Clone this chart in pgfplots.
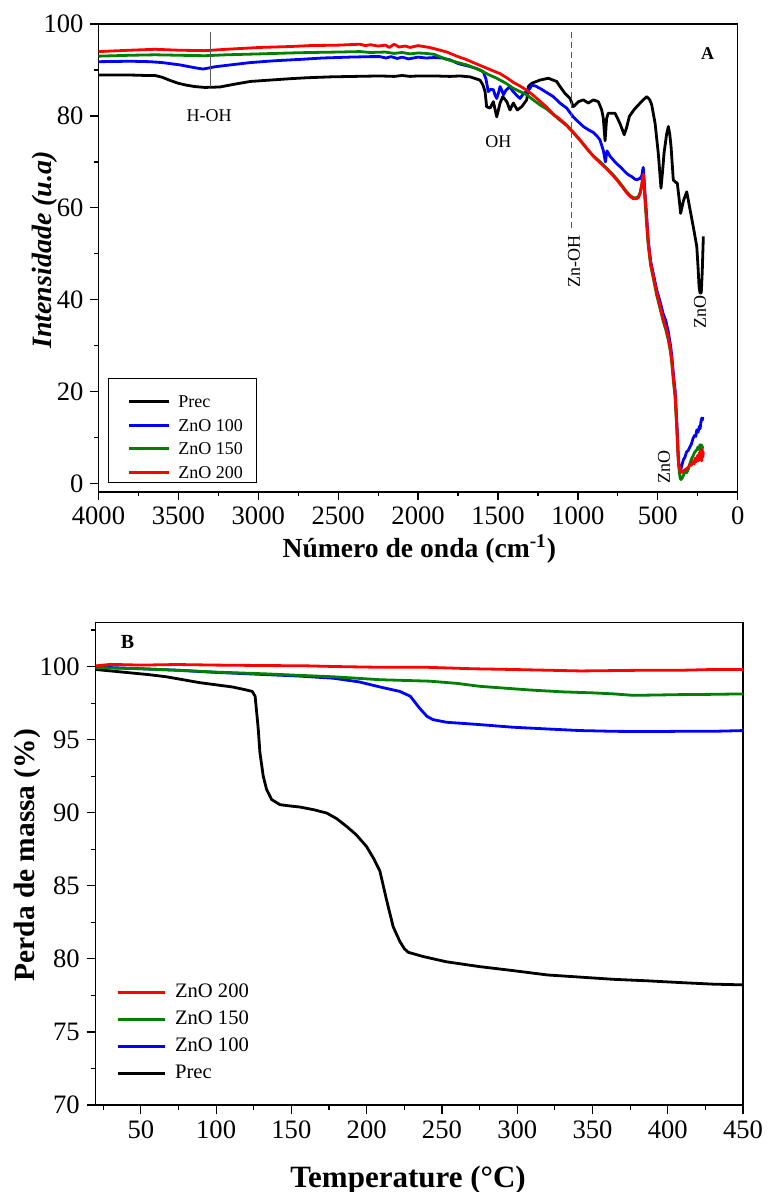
\documentclass[border=0pt]{standalone}
\usepackage{fontspec}
\setmainfont{Liberation Serif}
\usepackage{pgfplots}
\pgfplotsset{compat=1.18}
\definecolor{cgreen}{RGB}{0,128,0}
\definecolor{cblue}{RGB}{0,0,255}
\definecolor{cred}{RGB}{255,0,0}

\pgfplotsset{
  common/.style={
    scale only axis, tick pos=left, tick align=outside,
    every major tick/.append style={line width=0.6pt,black},
    every minor tick/.append style={line width=0.6pt,black},
    axis line style={line width=0.6pt},
    /pgf/number format/assume math mode=true,
    /pgf/number format/set thousands separator={},
    tick label style={font=\fontsize{13.3}{16}\selectfont},
    legend cell align=left,
  }
}

\begin{document}
\begin{tikzpicture}
\path[use as bounding box] (0,0) rectangle (384.5pt,-596pt);

% ---------------- Panel A : FTIR ----------------
\begin{axis}[common,
  at={(49.25pt,-246pt)}, anchor=south west, width=319.6pt, height=234pt,
  x dir=reverse, xmin=0, xmax=4000, ymin=-1.8, ymax=100,
  xtick={0,500,...,4000}, minor xtick={250,750,...,3750},
  ytick={0,20,...,100}, minor ytick={10,30,...,90},
  major tick length=4pt, minor tick length=2.2pt,
  xlabel={Número de onda (cm\textsuperscript{-1})},
  xlabel style={font=\bfseries\fontsize{13.8}{16}\selectfont, at={(axis description cs:0.502,-0.141)}, anchor=base},
  ylabel={Intensidade (u.a)},
  ylabel style={font=\bfseries\itshape\fontsize{14}{16}\selectfont, at={(axis description cs:-0.0732,0.517)}, anchor=base},
  legend style={at={(axis description cs:0.0149,0.2436)}, anchor=north west, draw=black, line width=0.5pt,
    font=\fontsize{9}{11}\selectfont, inner xsep=7pt, inner ysep=1pt, row sep=-2.65pt,
    nodes={inner sep=0pt, text height=13.5pt, text depth=1pt}},
  legend image code/.code={\path (0pt,0pt); \draw[#1, line width=1.4pt] (2.5pt,-3.25pt) -- (22.5pt,-3.25pt); \path (26.5pt,0pt);},
  every axis plot/.append style={line width=1.4pt, line join=round},
]
\addplot[black] coordinates {(4000,88.9)(3900,88.9)(3800,88.9)(3700,88.8)(3646,88.8)(3600,88.4)(3550,87.7)(3500,87.1)(3450,86.7)(3400,86.4)(3334,86.2)(3240,86.3)(3150,86.9)(3050,87.5)(2927,87.8)(2800,88.1)(2700,88.3)(2550,88.5)(2400,88.6)(2239,88.7)(2150,88.6)(2100,88.8)(2050,88.6)(2000,88.7)(1900,88.7)(1800,88.6)(1737,88.7)(1675,88.5)(1613,87.8)(1595,86.8)(1581,85.3)(1571,82.0)(1550,81.7)(1529,83.1)(1508,79.8)(1487,82.8)(1470,84.2)(1445,83.1)(1425,81.3)(1404,82.8)(1379,81.3)(1352,82.0)(1320,83.5)(1310,86.4)(1289,87.1)(1237,87.8)(1185,88.2)(1133,87.5)(1112,86.4)(1081,84.9)(1049,83.8)(1029,82.0)(997,83.1)(966,83.5)(935,82.8)(903,83.5)(872,83.1)(851,81.3)(841,79.5)(830,74.6)(820,79.5)(810,80.6)(768,80.6)(737,78.4)(710,75.9)(695,77.5)(678,79.9)(650,81.3)(632,82.0)(600,83.2)(569,84.2)(550,83.5)(538,82.4)(517,78.4)(497,71.9)(480,64.3)(470,68.0)(461,71.9)(445,76.0)(434,77.7)(425,76.0)(417,73.3)(403,66.1)(390,65.6)(378,65.4)(365,61.5)(357,58.8)(340,61.5)(319,63.5)(308,61.5)(298,59.6)(278,55.9)(256,51.6)(248,47.0)(242,43.0)(236,41.5)(228,41.5)(222,46.0)(215,53.8)};
\addlegendentry{Prec}
\addplot[cblue] coordinates {(4000,91.8)(3800,91.9)(3677,91.8)(3600,91.6)(3490,91.1)(3400,90.5)(3346,90.2)(3271,90.7)(3150,91.2)(3052,91.6)(2900,92.0)(2739,92.3)(2600,92.6)(2426,92.8)(2300,92.9)(2239,92.9)(2200,92.6)(2170,92.9)(2130,92.5)(2100,92.8)(2060,92.4)(2000,92.8)(1950,92.6)(1900,92.7)(1850,92.6)(1800,92.2)(1750,91.4)(1717,91.1)(1680,90.8)(1633,90.3)(1592,89.6)(1575,88.0)(1561,85.3)(1545,85.8)(1529,85.7)(1519,84.6)(1508,83.8)(1497,85.0)(1487,86.4)(1475,85.5)(1466,84.6)(1450,85.6)(1425,86.4)(1410,85.5)(1394,84.9)(1375,84.2)(1362,83.8)(1350,84.4)(1341,84.9)(1320,85.3)(1300,86.0)(1289,86.7)(1265,86.5)(1237,86.0)(1200,85.2)(1154,84.2)(1112,82.8)(1070,81.7)(1029,79.8)(1000,78.8)(966,77.7)(935,77.0)(903,76.4)(880,75.6)(862,74.8)(841,72.5)(828,70.0)(818,72.4)(800,71.3)(778,70.4)(757,69.6)(737,69.0)(715,68.2)(695,67.5)(675,67.0)(663,66.8)(645,66.3)(632,66.1)(620,66.3)(611,66.4)(600,67.0)(595,68.2)(591,68.8)(587,67.0)(580,63.0)(570,58.5)(560,53.0)(545,48.5)(530,46.0)(507,42.2)(485,39.5)(465,36.8)(450,35.5)(434,33.0)(420,30.0)(413,28.0)(400,23.0)(392,20.5)(385,16.0)(381,13.5)(376,9.5)(372,6.2)(367,3.5)(362,2.8)(355,3.2)(348,4.2)(340,5.2)(330,5.8)(320,6.9)(310,7.2)(298,8.1)(290,8.6)(280,9.8)(270,10.5)(262,10.3)(256,11.7)(248,11.2)(240,12.5)(235,12.0)(230,13.5)(225,14.3)(222,13.8)(218,14.5)};
\addlegendentry{ZnO 100}
\addplot[cgreen] coordinates {(4000,93.0)(3800,93.2)(3646,93.3)(3500,93.2)(3334,93.1)(3200,93.3)(2990,93.5)(2800,93.7)(2677,93.8)(2500,93.9)(2364,94.0)(2300,93.8)(2205,93.9)(2150,93.6)(2100,93.8)(2050,93.5)(2000,93.7)(1950,93.6)(1900,93.4)(1821,92.3)(1760,91.7)(1696,91.1)(1613,90.0)(1560,89.0)(1508,88.2)(1450,87.1)(1404,86.0)(1362,85.3)(1320,84.6)(1280,83.5)(1237,82.4)(1195,81.5)(1154,80.3)(1110,79.0)(1070,77.9)(1030,76.4)(987,74.7)(945,72.9)(903,71.3)(860,70.0)(820,68.6)(790,67.6)(757,66.3)(725,64.9)(695,63.5)(670,62.6)(653,62.2)(635,62.2)(622,62.4)(610,63.4)(601,64.9)(595,66.3)(591,67.0)(587,65.5)(580,61.5)(570,56.5)(560,52.0)(545,47.5)(530,45.0)(507,41.0)(485,38.0)(465,35.2)(450,33.5)(434,31.2)(420,28.5)(413,26.5)(400,21.5)(392,19.0)(385,14.5)(381,12.0)(376,8.0)(370,4.5)(365,2.5)(360,1.2)(355,0.9)(345,1.4)(335,2.2)(325,2.8)(319,2.4)(309,3.2)(298,4.5)(290,5.3)(280,6.0)(270,6.8)(256,7.4)(248,8.0)(240,7.4)(236,8.5)(230,7.9)(225,8.4)(218,7.6)};
\addlegendentry{ZnO 150}
\addplot[cred] coordinates {(4000,94.0)(3800,94.3)(3646,94.5)(3500,94.3)(3334,94.2)(3200,94.5)(2990,94.9)(2800,95.1)(2677,95.3)(2500,95.4)(2364,95.6)(2330,95.3)(2300,95.5)(2250,95.2)(2205,95.4)(2180,94.9)(2150,95.6)(2120,95.0)(2080,95.2)(2050,94.9)(2000,95.3)(1967,95.1)(1930,94.9)(1884,94.5)(1820,93.9)(1758,93.0)(1700,92.3)(1654,91.6)(1613,91.0)(1571,90.4)(1530,89.8)(1487,89.2)(1445,88.3)(1404,87.3)(1362,86.5)(1320,85.6)(1280,84.5)(1237,83.2)(1195,81.9)(1154,80.4)(1110,79.2)(1070,78.0)(1030,76.5)(987,74.8)(945,73.0)(903,71.2)(860,69.8)(820,68.5)(790,67.4)(757,66.1)(725,64.7)(695,63.3)(670,62.4)(653,62.0)(635,62.0)(622,62.2)(610,63.2)(601,64.8)(595,66.3)(591,67.3)(587,66.0)(580,62.5)(570,57.5)(560,52.5)(545,48.0)(530,45.5)(507,41.5)(485,38.5)(465,35.7)(450,34.0)(434,31.8)(420,29.0)(413,27.0)(400,22.0)(392,19.8)(385,15.0)(381,12.5)(376,8.5)(372,5.2)(365,3.5)(357,2.6)(350,2.4)(340,2.8)(330,3.0)(320,3.3)(310,3.5)(300,4.2)(290,4.0)(280,5.0)(272,4.3)(265,5.6)(258,4.8)(250,6.2)(245,5.0)(240,6.8)(235,5.4)(230,7.2)(226,5.0)(222,7.5)(218,5.8)(215,7.0)};
\addlegendentry{ZnO 200}
% annotations
\draw[black!65, line width=0.6pt] (axis cs:3300,98.3) -- (axis cs:3300,86.3);
\draw[black!65, line width=0.6pt, densely dashed] (axis cs:1040,98.3) -- (axis cs:1040,55.6);
\node[font=\fontsize{9}{10}\selectfont] at (axis cs:3308,80) {H-OH};
\node[font=\fontsize{9}{10}\selectfont] at (axis cs:1497,74.4) {OH};
\node[font=\fontsize{9}{10}\selectfont, rotate=90] at (axis cs:1025,48.3) {Zn-OH};
\node[font=\fontsize{9}{10}\selectfont, rotate=90] at (axis cs:236,37.4) {ZnO};
\node[font=\fontsize{9}{10}\selectfont, rotate=90] at (axis cs:461,3.7) {ZnO};
\node[font=\bfseries\fontsize{9}{10}\selectfont] at (axis cs:188,93.5) {A};
\end{axis}

% ---------------- Panel B : TGA ----------------
\begin{axis}[common,
  at={(47.85pt,-552.5pt)}, anchor=south west, width=323.65pt, height=241.15pt,
  xmin=20, xmax=450, ymin=70, ymax=103,
  xtick={50,100,...,450}, minor xtick={25,75,...,425},
  ytick={70,75,...,100}, minor ytick={72.5,77.5,...,102.5},
  major tick length=4.5pt, minor tick length=2.5pt,
  xlabel={Temperature (°C)},
  xlabel style={font=\bfseries\fontsize{15.5}{18}\selectfont, at={(axis description cs:0.4825,-0.170)}, anchor=base},
  ylabel={Perda de massa (\%)},
  ylabel style={font=\bfseries\fontsize{14.7}{18}\selectfont, at={(axis description cs:-0.0938,0.518)}, anchor=base},
  reverse legend,
  legend style={at={(axis description cs:0.025,0.255)}, anchor=north west, draw=none, fill=none,
    font=\fontsize{10.3}{12}\selectfont, inner xsep=2pt, inner ysep=0pt, row sep=3.45pt,
    nodes={inner sep=0pt, text height=7.5pt, text depth=2.5pt}},
  legend image code/.code={\path (0pt,0pt); \draw[#1, line width=1.4pt] (0pt,0pt) -- (23.5pt,0pt); \path (28pt,0pt);},
  every axis plot/.append style={line width=1.4pt, line join=round},
]
\addplot[black] coordinates {(20,99.8)(30,99.7)(43,99.57)(55,99.45)(67,99.3)(78,99.1)(89,98.9)(100,98.75)(111,98.6)(120,98.4)(124,98.3)(125.9,97.97)(127,96.8)(128,95.7)(129.1,94.1)(131.3,92.5)(133.5,91.6)(136.9,90.9)(142.4,90.55)(150,90.45)(155.6,90.39)(165,90.2)(173.4,89.98)(180,89.6)(186.7,89.06)(193,88.5)(199.9,87.69)(205,86.8)(208.8,86.0)(213.2,84.04)(217.6,82.2)(222,81.2)(225,80.7)(227.6,80.45)(237.5,80.16)(253,79.8)(275,79.47)(297,79.2)(320,78.9)(342,78.75)(364,78.6)(386,78.5)(408,78.38)(430,78.27)(450,78.22)};
\addlegendentry{Prec}
\addplot[cblue] coordinates {(20,99.85)(25,99.95)(50,99.85)(74,99.75)(100,99.6)(133,99.45)(155,99.35)(178,99.2)(195,98.95)(209,98.6)(222,98.3)(229,97.97)(235,97.17)(240,96.6)(244,96.37)(253,96.19)(275,96.03)(297,95.85)(320,95.73)(342,95.62)(364,95.57)(386,95.55)(408,95.57)(430,95.57)(450,95.62)};
\addlegendentry{ZnO 100}
\addplot[cgreen] coordinates {(20,99.95)(30,99.9)(50,99.85)(74,99.75)(100,99.62)(133,99.5)(155,99.4)(178,99.3)(209,99.1)(242,99.0)(260,98.85)(275,98.65)(308,98.4)(330,98.27)(350,98.2)(364,98.13)(377,98.03)(390,98.05)(408,98.08)(430,98.1)(450,98.13)};
\addlegendentry{ZnO 150}
\addplot[cred] coordinates {(20,100.05)(30,100.15)(50,100.1)(74,100.14)(100,100.1)(133,100.07)(160,100.05)(180,100.0)(209,99.95)(240,99.95)(270,99.85)(297,99.8)(320,99.75)(342,99.7)(360,99.72)(386,99.75)(410,99.75)(430,99.8)(450,99.8)};
\addlegendentry{ZnO 200}
\node[font=\bfseries\fontsize{10}{12}\selectfont] at (axis cs:41.2,101.7) {B};
\end{axis}
\end{tikzpicture}
\end{document}
